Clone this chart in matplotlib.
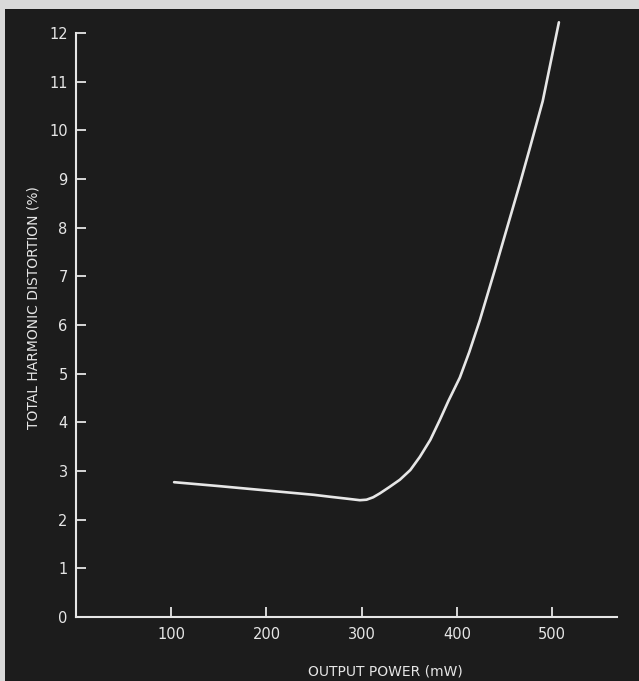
import matplotlib.pyplot as plt
from matplotlib.patches import Rectangle

# Distortion curve (mW, % THD)
power_mw = [103, 150, 200, 250, 267, 285, 298, 305, 312, 319, 329, 340, 351, 361, 372, 382,
            391, 403, 413, 424, 440, 455, 466, 476, 490, 507]
thd_pct = [2.77, 2.69, 2.60, 2.51, 2.47, 2.43, 2.40, 2.41, 2.46, 2.54, 2.67, 2.82, 3.02, 3.29, 3.64, 4.05,
           4.44, 4.92, 5.45, 6.10, 7.15, 8.16, 8.90, 9.60, 10.60, 12.22]

x_ticks = [100, 200, 300, 400, 500]
y_ticks = list(range(0, 13))

bg = '#1c1c1c'
fg = '#e6e6e6'

fig = plt.figure(figsize=(6.39, 6.81), dpi=100, facecolor=bg)

# light scan border on top and left
fig.patches.append(Rectangle((0, 1 - 9 / 681), 1, 9 / 681, transform=fig.transFigure,
                             facecolor='#d9d9d9', edgecolor='none', zorder=0))
fig.patches.append(Rectangle((0, 0), 5 / 639, 1, transform=fig.transFigure,
                             facecolor='#d9d9d9', edgecolor='none', zorder=0))

ax = fig.add_axes([76 / 639, 64 / 681, 541 / 639, 584 / 681])
ax.set_facecolor(bg)

ax.plot(power_mw, thd_pct, color=fg, lw=1.9, solid_capstyle='round',
        solid_joinstyle='round', clip_on=False)

ax.set_xlim(0, 568)
ax.set_ylim(0, 12)
ax.set_xticks(x_ticks)
ax.set_yticks(y_ticks)

for side in ['top', 'right']:
    ax.spines[side].set_visible(False)
for side in ['left', 'bottom']:
    ax.spines[side].set_color(fg)
    ax.spines[side].set_linewidth(1.5)

ax.tick_params(direction='in', length=7, width=1.3, color=fg, labelcolor=fg, labelsize=10.5)
ax.tick_params(axis='y', pad=6)
ax.tick_params(axis='x', pad=7)

ax.set_ylabel('TOTAL HARMONIC DISTORTION (%)', color=fg, fontsize=10)
ax.yaxis.set_label_coords(-0.066, 0.53)
ax.set_xlabel('OUTPUT POWER (mW)', color=fg, fontsize=10)
ax.xaxis.set_label_coords(0.571, -0.081)

fig.savefig('out.png', dpi=100, facecolor=bg)
